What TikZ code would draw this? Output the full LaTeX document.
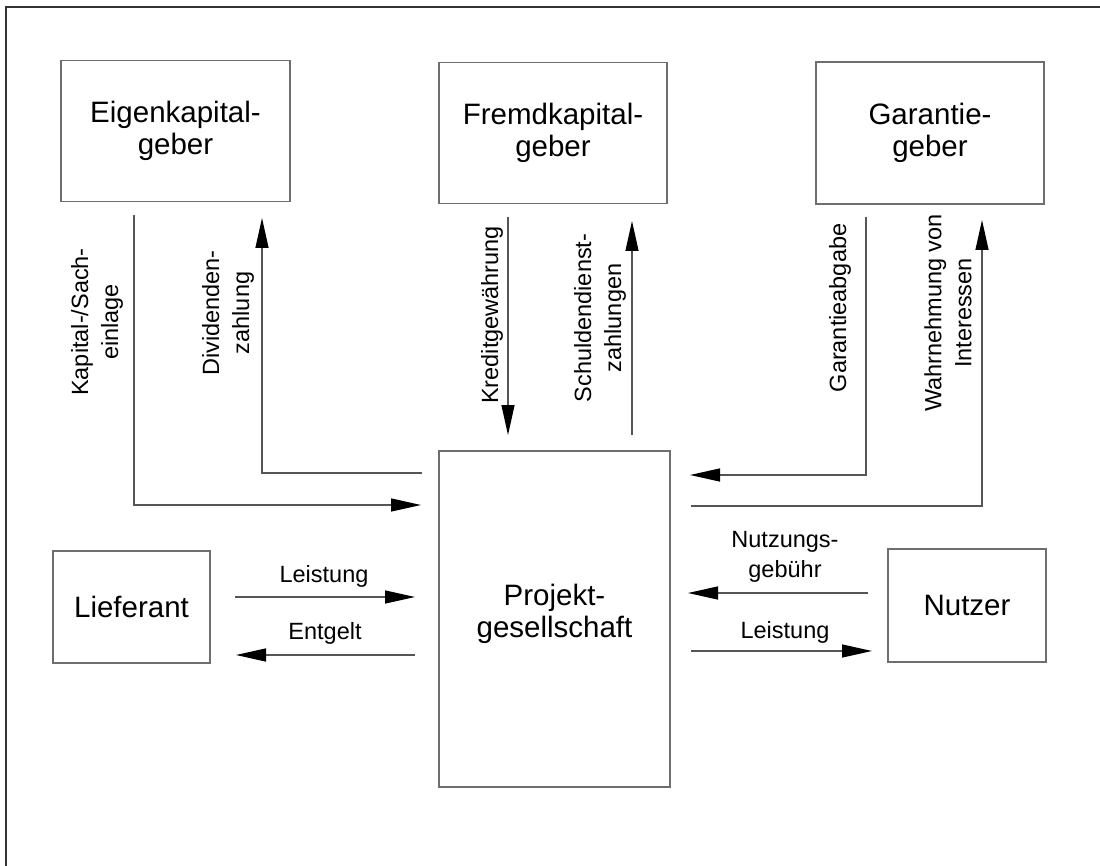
\documentclass[tikz,border=0pt]{standalone}
\usepackage{fontspec}
\setmainfont{Liberation Sans}
\usetikzlibrary{arrows.meta}
\definecolor{frameline}{HTML}{333333}
\definecolor{boxline}{HTML}{6E6E6E}
\definecolor{flowline}{HTML}{555555}
\begin{document}
\begin{tikzpicture}[x=1pt,y=-1pt,
  box/.style={draw=boxline, line width=1.4pt, inner sep=0pt, align=center,
    font=\fontsize{29.5}{32}\selectfont},
  boxtext/.style={inner sep=0pt, align=center, font=\fontsize{29.5}{32}\selectfont},
  flow/.style={draw=flowline, line width=1.3pt,
    -{Triangle[length=30pt,width=13pt,color=black]}},
  lab/.style={inner sep=0pt, align=center, font=\fontsize{23.5}{30}\selectfont},
  vlab/.style={lab, rotate=90}]
\useasboundingbox (0,0) rectangle (1100,866);
% outer frame (only top and left edges lie inside the page)
\draw[frameline, line width=1.8pt] (6,866) -- (6,7) -- (1100,7);

% parties
\node[box, minimum width=229pt, minimum height=141pt] (eigen)   at (175.5,131) {Eigenkapital-\\geber};
\node[box, minimum width=228pt, minimum height=141pt] (fremd)   at (553,133)   {Fremdkapital-\\geber};
\node[box, minimum width=228pt, minimum height=142pt] (garant)  at (930,133)   {Garantie-\\geber};
\node[box, minimum width=231pt, minimum height=336pt] (projekt) at (554.5,619)  {};
\node[boxtext] (projektText) at (554.5,614) {Projekt-\\gesellschaft};
\node[box, minimum width=157pt, minimum height=112pt] (liefer)  at (131.5,607) {Lieferant};
\node[box, minimum width=158pt, minimum height=113pt] (nutzer)  at (967,605.5) {Nutzer};

% free ends of the flows
\coordinate (kapA) at (134,215);  \coordinate (kapB) at (421,505);
\coordinate (divA) at (422,473);  \coordinate (divB) at (262,218);
\coordinate (kreA) at (508,217);  \coordinate (kreB) at (508,435);
\coordinate (schA) at (632,435);  \coordinate (schB) at (632,221);
\coordinate (garA) at (866,217);  \coordinate (garB) at (690,475);
\coordinate (wahA) at (691,506);  \coordinate (wahB) at (982,220);
\coordinate (lsA)  at (235,597);  \coordinate (lsB)  at (415,597);
\coordinate (entA) at (415,655);  \coordinate (entB) at (236,655);
\coordinate (nutA) at (868,593);  \coordinate (nutB) at (688,593);
\coordinate (lnA)  at (691,651);  \coordinate (lnB)  at (872,651);

% flows
\draw[flow] (kapA) |- (kapB);
\draw[flow] (divA) -| (divB);
\draw[flow] (kreA) -- (kreB);
\draw[flow] (schA) -- (schB);
\draw[flow] (garA) |- (garB);
\draw[flow] (wahA) -| (wahB);
\draw[flow] (lsA) -- (lsB);
\draw[flow] (entA) -- (entB);
\draw[flow] (nutA) -- (nutB);
\draw[flow] (lnA) -- (lnB);

% flow labels
\node[vlab] (tKap) at (97,322)  {Kapital-/Sach-\\einlage};
\node[vlab] (tDiv) at (228,313) {Dividenden-\\zahlung};
\node[vlab] (tKre) at (492,315) {Kreditgewährung};
\node[vlab] (tSch) at (600,318) {Schuldendienst-\\zahlungen};
\node[vlab] (tGar) at (840,308) {Garantieabgabe};
\node[vlab] (tWah) at (948,313) {Wahrnehmung von\\Interessen};
\node[lab] (tLs)  at (324,576) {Leistung};
\node[lab] (tEnt) at (325,633) {Entgelt};
\node[lab] (tNut) at (785,557) {Nutzungs-\\gebühr};
\node[lab] (tLn)  at (785,632) {Leistung};
\end{tikzpicture}
\end{document}
